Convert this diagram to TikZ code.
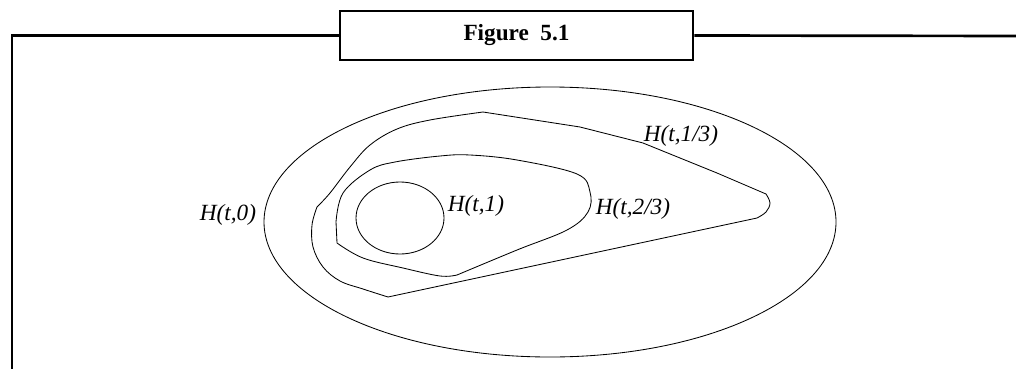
\documentclass[tikz,border=0pt]{standalone}
\usepackage{fontspec}
\setmainfont{Liberation Serif}
\usepackage{tikz}
\usetikzlibrary{positioning}

\begin{document}
\begin{tikzpicture}[x=0.025cm, y=-0.025cm,
    curve/.style={line width=0.6pt, black},
    frameline/.style={line width=1.9pt, black},
    hlabel/.style={inner sep=0pt, font=\fontsize{16.5}{19}\selectfont\itshape},
    titlebox/.style={draw, line width=1.9pt, minimum width=251pt, minimum height=35pt, inner sep=0pt, font=\fontsize{16.5}{19}\selectfont\bfseries}]
    \useasboundingbox (0,0) rectangle (1016,368);

    % Draw Frame
    \node[titlebox] (title) at (516.5,35.5) {Figure\ \ 5.1};
    \coordinate (framebl) at (12,372);
    \coordinate (frametr) at (1020,36);
    \draw[frameline] (framebl) |- (title.west);
    \draw[frameline] (title.east) -- (frametr);

    % Draw H(t,0)
    \draw[curve] (550,222) ellipse [x radius=286, y radius=135];

    % Draw H(t,1/3)
    \draw[curve] (388,297) -- (757,218)
        plot[smooth, tension=0.6] coordinates {(757,218) (766,212) (770,203) (766,194)}
        -- (717,173) -- (643,143) -- (580,127) -- (483,112)
        plot[smooth, tension=0.6] coordinates {(483,112) (430,120) (397,129) (370,145) (350,167) (330,193) (317,207)}
        plot[smooth, tension=0.6] coordinates {(317,207) (312,225) (313,247) (323,267) (340,281) (363,289) (388,297)};

    % Draw H(t,2/3)
    \draw[curve] (337,243) -- (336,222)
        plot[smooth, tension=0.6] coordinates {(336,222) (343,193) (370,170) (395,162) (440,156) (470,155) (517,160) (577,174) (590,192) (588,212) (567,230) (517,250) (457,275)}
        plot[smooth, tension=0.6] coordinates {(457,275) (440,276) (403,268) (363,258) (337,243)};

    % Draw H(t,1)
    \draw[curve] (400,218) ellipse [x radius=44, y radius=36];

    % Labels
    \node[hlabel] (lab0) at (228,215) {H(t,0)};
    \node[hlabel] (lab1) at (476,206) {H(t,1)};
    \node[hlabel] (lab23) at (633,209) {H(t,2/3)};
    \node[hlabel] (lab13) at (681,136) {H(t,1/3)};
\end{tikzpicture}
\end{document}
